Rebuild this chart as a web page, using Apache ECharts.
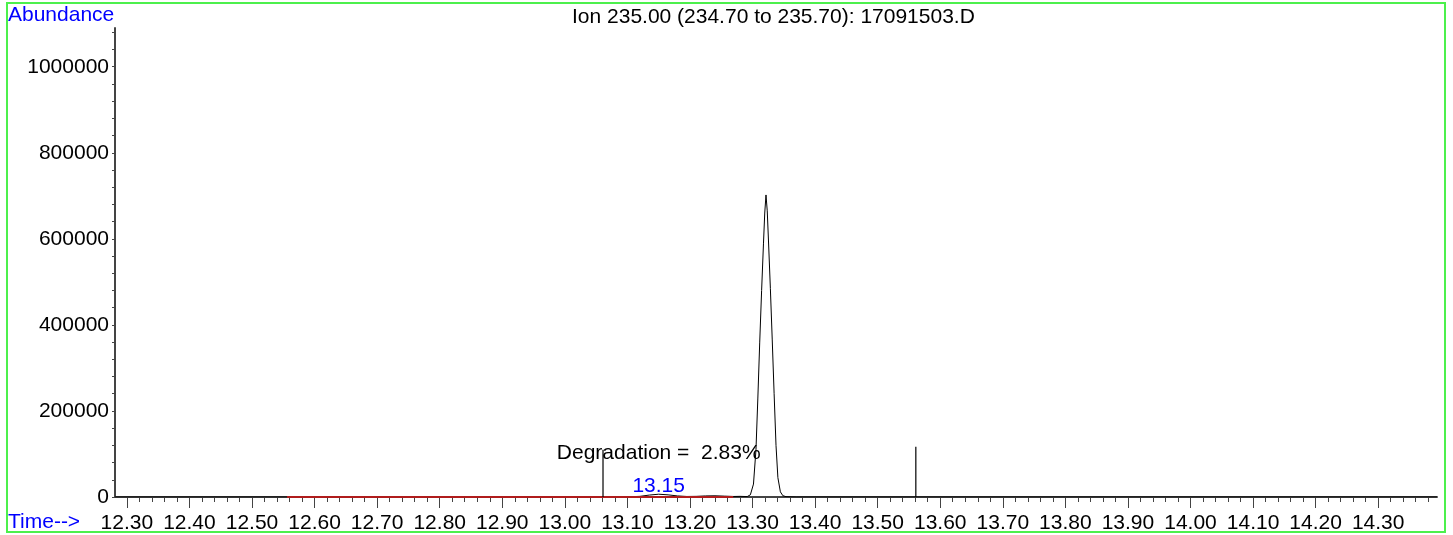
<!DOCTYPE html>
<html>
<head>
<meta charset="utf-8">
<title>Ion 235.00 chromatogram</title>
<script src="https://cdn.jsdelivr.net/npm/echarts@6/dist/echarts.min.js"></script>
<style>
  html, body { margin: 0; padding: 0; background: #fff; }
  #chart { width: 1453px; height: 535px; }
</style>
</head>
<body>
<div id="chart"></div>
<script>
// Extracted ion chromatogram, m/z 235.00 (234.70 to 235.70), run 17091503.D
const titleText = 'Ion 235.00 (234.70 to 235.70): 17091503.D';

// Retention time (min) and abundance of the trace
const times = [
  12.281, 12.600, 13.000, 13.100, 13.120, 13.135, 13.150, 13.165, 13.180,
  13.195, 13.210, 13.225, 13.240, 13.255, 13.270, 13.280,
  13.2915, 13.2965, 13.3015, 13.3055, 13.3085, 13.3115, 13.3145, 13.3175,
  13.3195, 13.3215, 13.3235, 13.3255, 13.3285, 13.3315, 13.3345, 13.3375,
  13.3405, 13.3445, 13.3485, 13.3535, 13.370, 14.394
];
const abundance = [
  0, 0, 0, 300, 1500, 4500, 6500, 5000, 2500,
  1200, 1500, 2500, 2800, 2000, 1200, 1500,
  1000, 5000, 30000, 110000, 230000, 360000, 480000, 590000,
  660000, 702000, 665000, 595000, 485000, 365000, 240000, 120000,
  45000, 12000, 3000, 800, 0, 0
];

// Integration baseline (start, end) in minutes
const baselineTimes = [12.556, 13.269];

// Integration event markers: time and height
const markerTimes = [13.061, 13.561];
const markerHeights = [110000, 117000];

// Small degradation peak
const smallPeakTime = 13.15;
const smallPeakHeight = 6500;
const degradationText = 'Degradation =  2.83%';

// Axis ticks and labels
const xMajorTicks = [12.30, 12.40, 12.50, 12.60, 12.70, 12.80, 12.90, 13.00, 13.10, 13.20,
                     13.30, 13.40, 13.50, 13.60, 13.70, 13.80, 13.90, 14.00, 14.10, 14.20, 14.30];
const xTickLabels = ['12.30','12.40','12.50','12.60','12.70','12.80','12.90','13.00','13.10','13.20',
                     '13.30','13.40','13.50','13.60','13.70','13.80','13.90','14.00','14.10','14.20','14.30'];
const xMinorTicks = [];
for (let k = 614; k <= 719; k++) xMinorTicks.push(+(k * 0.02).toFixed(2));
const yMajorTicks = [0, 200000, 400000, 600000, 800000, 1000000];
const yMinorTicks = [];
for (let v = 0; v <= 1080000; v += 40000) yMinorTicks.push(v);

const X_MIN = 12.281, X_MAX = 14.394, Y_MAX = 1090000;
const FONT = '"Liberation Sans", Arial, Helvetica, sans-serif';
const AXIS_COLOR = '#444';

const trace = times.map((t, i) => [t, abundance[i]]);

const markerSeries = markerTimes.map((t, i) => ({
  type: 'line',
  data: [[t, 0], [t, markerHeights[i]]],
  symbol: 'none',
  lineStyle: { color: '#000', width: 1.2 },
  silent: true,
  z: 6
}));

const chart = echarts.init(document.getElementById('chart'), null, { renderer: 'canvas' });

chart.setOption({
  animation: false,
  backgroundColor: '#fff',
  title: {
    text: titleText,
    left: 572,
    top: 7,
    padding: 0,
    textStyle: { fontFamily: FONT, fontSize: 21, fontWeight: 'normal', color: '#000' }
  },
  grid: { left: 115, right: 16, top: 28, bottom: 38, containLabel: false },
  xAxis: [
    {
      type: 'value', min: X_MIN, max: X_MAX, position: 'bottom',
      axisLine: { show: true, lineStyle: { color: AXIS_COLOR, width: 2 } },
      axisTick: { show: true, customValues: xMinorTicks, length: 5, inside: false,
                  lineStyle: { color: AXIS_COLOR, width: 1 } },
      axisLabel: { show: false },
      splitLine: { show: false }
    },
    {
      type: 'value', min: X_MIN, max: X_MAX, position: 'bottom', offset: 0,
      axisLine: { show: false },
      axisTick: { show: true, customValues: xMajorTicks, length: 11,
                  lineStyle: { color: AXIS_COLOR, width: 1 } },
      axisLabel: {
        show: true, customValues: xMajorTicks, margin: 16,
        fontFamily: FONT, fontSize: 21, color: '#000',
        formatter: v => xTickLabels[xMajorTicks.findIndex(m => Math.abs(m - v) < 1e-6)]
      },
      splitLine: { show: false }
    }
  ],
  yAxis: {
    type: 'value', min: 0, max: Y_MAX,
    axisLine: { show: true, lineStyle: { color: AXIS_COLOR, width: 2 } },
    axisTick: { show: true, customValues: yMinorTicks, length: 3,
                lineStyle: { color: AXIS_COLOR, width: 1 } },
    axisLabel: {
      show: true, customValues: yMajorTicks, margin: 6,
      fontFamily: FONT, fontSize: 21, color: '#000',
      formatter: v => String(v)
    },
    splitLine: { show: false }
  },
  graphic: [
    { type: 'rect', shape: { x: 7, y: 3, width: 1438, height: 529 },
      style: { fill: 'none', stroke: '#4cf04c', lineWidth: 2 }, silent: true, z: 100 },
    { type: 'text', left: 8, top: 5,
      style: { text: 'Abundance', fill: '#0000ff', font: '21px ' + FONT } },
    { type: 'text', left: 8, top: 512,
      style: { text: 'Time-->', fill: '#0000ff', font: '21px ' + FONT } }
  ],
  series: [
    {
      type: 'line',
      data: trace,
      symbol: 'none',
      lineStyle: { color: '#000', width: 1 },
      silent: true,
      z: 3
    },
    {
      type: 'line',
      data: baselineTimes.map(t => [t, 0]),
      symbol: 'none',
      lineStyle: { color: '#b01c1c', width: 2 },
      silent: true,
      z: 4
    },
    ...markerSeries,
    {
      type: 'scatter',
      symbolSize: 0,
      silent: true,
      z: 5,
      itemStyle: { opacity: 1 },
      data: [
        {
          value: [smallPeakTime, smallPeakHeight],
          label: { show: true, position: 'top', distance: -2,
                   formatter: p => p.value[0].toFixed(2),
                   fontFamily: FONT, fontSize: 21, color: '#0000ff',
                   textBorderWidth: 0 }
        },
        {
          value: [smallPeakTime, 102000],
          label: { show: true, position: 'inside',
                   formatter: degradationText,
                   fontFamily: FONT, fontSize: 21, color: '#000000',
                   textBorderWidth: 0, opacity: 1 }
        }
      ]
    }
  ]
});
</script>
</body>
</html>
